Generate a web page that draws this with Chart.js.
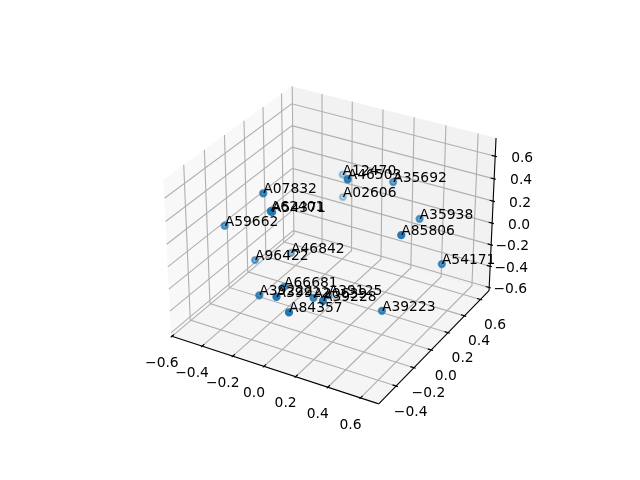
<!DOCTYPE html>
<html>
<head>
<meta charset="utf-8">
<title>Scatter 3D</title>
<script src="https://cdn.jsdelivr.net/npm/chart.js@4"></script>
<style>
  body { margin: 0; background: #fff; }
  canvas { display: block; }
</style>
</head>
<body>
<canvas id="myChart" width="640" height="480"></canvas>
<script>
// Datos
const etiquetas = ['A12470', 'A46503', 'A35692', 'A02606', 'A35938', 'A85806', 'A54171', 'A07832', 'A62401', 'A54371', 'A59662', 'A96422', 'A46842', 'A66681', 'A39222', 'A39922', 'A20639', 'A39228', 'A39125', 'A84357', 'A39223'];
const valoresX = [-0.206, 0.179, 0.245, -0.19, 0.436, 0.53, 0.645, -0.239, -0.113, -0.164, -0.484, -0.365, -0.26, -0.091, -0.135, 0.061, 0.124, 0.227, 0.029, 0.145, 0.442];
const valoresY = [0.612, -0.001, 0.391, 0.588, 0.351, -0.037, 0.225, -0.188, -0.314, -0.221, -0.206, -0.09, 0.124, -0.227, -0.411, -0.548, -0.272, -0.346, 0.052, -0.56, -0.079];
const valoresZ = [0.157, 0.668, 0.407, -0.03, 0.181, 0.348, -0.05, 0.512, 0.492, 0.399, 0.141, -0.205, -0.251, -0.231, -0.188, -0.012, -0.204, -0.129, -0.469, -0.103, -0.33];

const ticksX = [-0.6, -0.4, -0.2, 0, 0.2, 0.4, 0.6];
const ticksY = [-0.4, -0.2, 0, 0.2, 0.4, 0.6];
const ticksZ = [-0.6, -0.4, -0.2, 0, 0.2, 0.4, 0.6];
const textosX = ['\u22120.6', '\u22120.4', '\u22120.2', '0.0', '0.2', '0.4', '0.6'];
const textosY = ['\u22120.4', '\u22120.2', '0.0', '0.2', '0.4', '0.6'];
const textosZ = ['\u22120.6', '\u22120.4', '\u22120.2', '0.0', '0.2', '0.4', '0.6'];

const limX = [-0.605, 0.71];
const limY = [-0.59, 0.71];
const limZ = [-0.63, 0.76];

// Proyeccion de la vista por defecto (elevacion 30, azimut -60)
const ELEV = 30 * Math.PI / 180;
const AZIM = -60 * Math.PI / 180;
const DIST = 10;
const caja = [1.1905, 1.1905, 0.8929];
const w = [Math.cos(ELEV) * Math.cos(AZIM), Math.cos(ELEV) * Math.sin(AZIM), Math.sin(ELEV)];
const u = [-Math.sin(AZIM), Math.cos(AZIM), 0];
const v = [w[1] * u[2] - w[2] * u[1], w[2] * u[0] - w[0] * u[2], w[0] * u[1] - w[1] * u[0]];

function centrado(x, y, z) {
  return [
    ((x - limX[0]) / (limX[1] - limX[0]) - 0.5) * caja[0],
    ((y - limY[0]) / (limY[1] - limY[0]) - 0.5) * caja[1],
    ((z - limZ[0]) / (limZ[1] - limZ[0]) - 0.5) * caja[2]
  ];
}
const punto = (a, b) => a[0] * b[0] + a[1] * b[1] + a[2] * b[2];

function proyectar(x, y, z) {
  const p = centrado(x, y, z);
  const prof = DIST - punto(p, w);
  return {
    x: 143.2 + (punto(p, u) / prof + 0.095) * 1998,
    y: 427.2 - (punto(p, v) / prof + 0.095) * 1998
  };
}
const profundidad = (x, y, z) => punto(centrado(x, y, z), w);

const [x0, x1] = limX;
const [y0, y1] = limY;
const [z0, z1] = limZ;

// Paneles, rejilla, ejes y marcas
const linea = (puntos, color, orden) => ({
  data: puntos.map((p) => proyectar(p[0], p[1], p[2])),
  showLine: true,
  borderColor: color,
  borderWidth: 1.11,
  pointRadius: 0,
  fill: false,
  order: orden
});
const panel = (puntos, color) => ({
  data: puntos.map((p) => proyectar(p[0], p[1], p[2])),
  showLine: true,
  borderWidth: 0,
  borderColor: 'transparent',
  backgroundColor: color,
  pointRadius: 0,
  fill: 'shape',
  order: 5
});

const datasets = [];
datasets.push(panel([[x0, y0, z0], [x0, y1, z0], [x0, y1, z1], [x0, y0, z1]], 'rgba(242,242,242,0.5)'));
datasets.push(panel([[x0, y1, z0], [x1, y1, z0], [x1, y1, z1], [x0, y1, z1]], 'rgba(230,230,230,0.5)'));
datasets.push(panel([[x0, y0, z0], [x1, y0, z0], [x1, y1, z0], [x0, y1, z0]], 'rgba(236,236,236,0.5)'));

const GRIS = '#b0b0b0';
const dx = (x1 - x0) / 12, dy = (y1 - y0) / 12, dz = (z1 - z0) / 12;
ticksX.forEach((t) => {
  datasets.push(linea([[t, y0, z0], [t, y1, z0], [t, y1, z1]], GRIS, 4));
  datasets.push(linea([[t, y0 - 0.1 * dy, z0], [t, y0 + 0.2 * dy, z0]], '#000', 2));
});
ticksY.forEach((t) => {
  datasets.push(linea([[x1, t, z0], [x0, t, z0], [x0, t, z1]], GRIS, 4));
  datasets.push(linea([[x1 + 0.1 * dx, t, z0], [x1 - 0.2 * dx, t, z0]], '#000', 2));
});
ticksZ.forEach((t) => {
  datasets.push(linea([[x0, y0, t], [x0, y1, t], [x1, y1, t]], GRIS, 4));
  datasets.push(linea([[x1 + 0.1 * dx, y1, t], [x1 - 0.2 * dx, y1, t]], '#000', 2));
});
datasets.push(linea([[x0, y0, z0], [x1, y0, z0]], '#000', 3));
datasets.push(linea([[x1, y0, z0], [x1, y1, z0]], '#000', 3));
datasets.push(linea([[x1, y1, z0], [x1, y1, z1]], '#000', 3));

// Puntos ordenados de lejos a cerca, con opacidad segun la profundidad
const profs = etiquetas.map((_, i) => profundidad(valoresX[i], valoresY[i], valoresZ[i]));
const minP = Math.min(...profs);
const maxP = Math.max(...profs);
const orden = etiquetas.map((_, i) => i).sort((a, b) => profs[a] - profs[b]);
const colores = orden.map((i) => {
  const alfa = 0.3 + 0.7 * (profs[i] - minP) / (maxP - minP);
  return 'rgba(31,119,180,' + alfa.toFixed(3) + ')';
});
datasets.push({
  data: orden.map((i) => proyectar(valoresX[i], valoresY[i], valoresZ[i])),
  showLine: false,
  pointRadius: 3.1,
  pointHoverRadius: 3.1,
  pointBackgroundColor: colores,
  pointBorderColor: colores,
  pointBorderWidth: 2.08,
  order: 1
});

// Textos: etiquetas de los puntos y de las marcas
const textos = {
  id: 'textos',
  afterDatasetsDraw(chart) {
    const ctx = chart.ctx;
    const sx = chart.scales.x;
    const sy = chart.scales.y;
    const escribir = (txt, p, ox, oy, align, base) => {
      ctx.textAlign = align;
      ctx.textBaseline = base;
      ctx.fillText(txt, sx.getPixelForValue(p.x) + ox, sy.getPixelForValue(p.y) + oy);
    };
    ctx.save();
    ctx.fillStyle = '#000';
    ctx.font = '13.89px "DejaVu Sans"';
    etiquetas.forEach((et, i) => {
      escribir(et, proyectar(valoresX[i], valoresY[i], valoresZ[i]), 0, 0, 'left', 'alphabetic');
    });
    ticksX.forEach((t, i) => escribir(textosX[i], proyectar(t, y0, z0), -10, 27, 'center', 'middle'));
    ticksY.forEach((t, i) => escribir(textosY[i], proyectar(x1, t, z0), 14.5, 26, 'center', 'middle'));
    ticksZ.forEach((t, i) => escribir(textosZ[i], proyectar(x1, y1, t), 38, 2, 'right', 'middle'));
    ctx.restore();
  }
};

new Chart(document.getElementById('myChart'), {
  type: 'scatter',
  data: { datasets },
  options: {
    responsive: false,
    animation: false,
    devicePixelRatio: 1,
    layout: { padding: 0, autoPadding: false },
    plugins: { legend: { display: false }, tooltip: { enabled: false } },
    scales: {
      x: { type: 'linear', min: 0, max: 640, display: false },
      y: { type: 'linear', min: 0, max: 480, reverse: true, display: false }
    }
  },
  plugins: [textos]
});
</script>
</body>
</html>
